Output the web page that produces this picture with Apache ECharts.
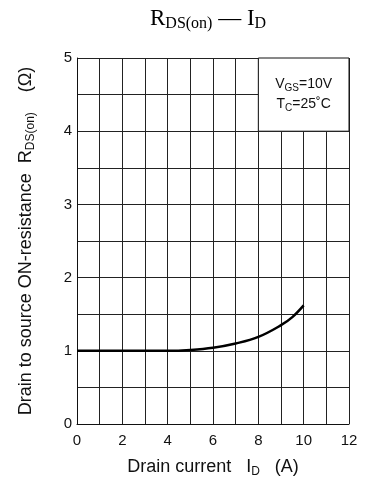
<!DOCTYPE html>
<html>
<head>
<meta charset="utf-8">
<script src="https://cdn.jsdelivr.net/npm/echarts@6/dist/echarts.min.js"></script>
<style>
  html, body { margin: 0; padding: 0; background: #fff; }
  #chart { width: 370px; height: 483px; }
</style>
</head>
<body>
<div id="chart"></div>
<script>
// 漏源导通电阻 - 漏极电流
var currentA = [0, 1, 2, 3, 4, 5, 6, 7, 8, 9, 9.5, 10];
var resistance = [1.0, 1.0, 1.0, 1.0, 1.0, 1.012, 1.042, 1.1, 1.19, 1.35, 1.46, 1.62];
var xTicks = [0, 2, 4, 6, 8, 10, 12];
var yTicks = [0, 1, 2, 3, 4, 5];
var noteBox = [[8, 4], [12, 5]];

var chart = echarts.init(document.getElementById('chart'));
var font = 'Liberation Sans, Arial, sans-serif';
var serif = 'Liberation Serif, Times New Roman, serif';

var option = {
  animation: false,
  graphic: [
    {
      type: 'text',
      left: 150,
      top: 7,
      style: {
        text: 'R{sub|DS(on)} — I{sub|D}',
        fontFamily: serif,
        fontSize: 23,
        fill: '#000',
        rich: {
          sub: { fontFamily: serif, fontSize: 16, padding: [10, 0, 0, 0], fill: '#000' }
        }
      }
    }
  ],
  grid: {
    left: 77,
    right: 21,
    top: 58,
    bottom: 58
  },
  xAxis: {
    type: 'value',
    min: 0,
    max: 12,
    interval: 1,
    name: 'Drain current   I{sub|D}   (A)',
    nameLocation: 'middle',
    nameGap: 32,
    nameTextStyle: {
      fontFamily: font,
      fontSize: 18,
      color: '#111',
      rich: {
        sub: { fontFamily: font, fontSize: 12, padding: [10, 0, 0, 0], color: '#111' }
      }
    },
    axisLine: { show: true, lineStyle: { color: '#111', width: 1 } },
    axisTick: { show: false },
    splitLine: { show: true, lineStyle: { color: '#222', width: 1 } },
    axisLabel: {
      margin: 9,
      fontFamily: font,
      fontSize: 15,
      color: '#111',
      formatter: function (v) {
        return xTicks.indexOf(v) >= 0 ? String(v) : '';
      }
    }
  },
  yAxis: {
    type: 'value',
    min: 0,
    max: 5,
    interval: 0.5,
    name: 'Drain to source ON-resistance  R{sub|DS(on)}    (Ω)',
    nameLocation: 'middle',
    nameGap: 40,
    nameRotate: 90,
    nameTextStyle: {
      fontFamily: font,
      fontSize: 18,
      color: '#111',
      rich: {
        sub: { fontFamily: font, fontSize: 12, padding: [10, 0, 0, 0], color: '#111' }
      }
    },
    axisLine: { show: true, lineStyle: { color: '#111', width: 1 } },
    axisTick: { show: false },
    splitLine: { show: true, lineStyle: { color: '#222', width: 1 } },
    axisLabel: {
      margin: 5,
      fontFamily: font,
      fontSize: 15,
      color: '#111',
      formatter: function (v) {
        return yTicks.indexOf(v) >= 0 ? String(v) : '';
      }
    }
  },
  series: [
    {
      type: 'line',
      data: currentA.map(function (x, i) { return [x, resistance[i]]; }),
      smooth: 0.4,
      showSymbol: false,
      lineStyle: { color: '#000', width: 2.5 },
      markArea: {
        silent: true,
        itemStyle: { color: '#fff', borderColor: '#111', borderWidth: 1 },
        label: {
          show: true,
          position: 'inside',
          fontFamily: font,
          fontSize: 14,
          color: '#111',
          lineHeight: 20,
          formatter: 'V{sub|GS}=10V\nT{sub|C}=25˚C',
          rich: {
            sub: { fontFamily: font, fontSize: 10, padding: [7, 0, 0, 0], color: '#111', lineHeight: 20 }
          }
        },
        data: [[{ coord: noteBox[0] }, { coord: noteBox[1] }]]
      }
    }
  ]
};

chart.setOption(option);
</script>
</body>
</html>
